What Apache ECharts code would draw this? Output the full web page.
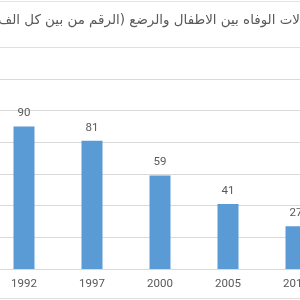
<!DOCTYPE html>
<html>
<head>
<meta charset="utf-8">
<script src="https://cdn.jsdelivr.net/npm/echarts@6/dist/echarts.min.js"></script>
<style>html,body{margin:0;padding:0;background:#fff}#c{width:300px;height:300px}</style>
</head>
<body>
<div id="c"></div>
<script>
const titleWords = ['معدلات','الوفاه','بين','الاطفال','والرضع','(الرقم','من','بين','كل','الف','مولود)'];
const categories = ['1992','1997','2000','2005','2010'];
const values = [90,81,59,41,27];
const yMin = 0, yMax = 120, yStep = 20;

const titleText = titleWords.join(' ');

// size/position the (cropped) title so that "…لات" starts at the right edge and "الف" reaches the left edge
const TITLE_FONT = 'DejaVu Sans';
const ctx = document.createElement('canvas').getContext('2d');
function tw(s, fs) { ctx.font = fs + 'px "' + TITLE_FONT + '"'; return ctx.measureText(s).width; }
const baseFs = 13;
const hidden13 = tw(titleWords[0], baseFs) - tw('لات', baseFs);
const visible13 = tw(titleWords.slice(0, 10).join(' '), baseFs) - hidden13;
const titleFs = baseFs * 302 / visible13;
const hiddenW = hidden13 * titleFs / baseFs;

const chart = echarts.init(document.getElementById('c'), null, {renderer:'canvas'});
chart.setOption({
  animation: false,
  backgroundColor: '#fff',
  title: {
    text: titleText,
    right: -hiddenW, top: 20, padding: 0,
    textVerticalAlign: 'middle',
    textStyle: {fontFamily: TITLE_FONT, fontSize: titleFs, fontWeight: 'normal', color: '#595959',
      verticalAlign: 'middle'}
  },
  graphic: [
    {type:'line', shape:{x1:0,y1:1.5,x2:300,y2:1.5}, style:{stroke:'#e3e3e3',lineWidth:1}},
    {type:'line', shape:{x1:0,y1:47.5,x2:300,y2:47.5}, style:{stroke:'#e0e0e0',lineWidth:1}},
    {type:'line', shape:{x1:0,y1:298.5,x2:300,y2:298.5}, style:{stroke:'#e0e0e0',lineWidth:1}}
  ],
  grid: {left: -10, width: 340, top: 79, height: 190, containLabel: false, outerBoundsMode: 'none'},
  xAxis: {
    type: 'category', data: categories,
    axisLine: {show: true, lineStyle: {color: '#d9d9d9'}},
    axisTick: {show: false},
    axisLabel: {color: '#595959', fontSize: 11.5, fontFamily: 'Roboto', margin: 9}
  },
  yAxis: {
    type: 'value', min: yMin, max: yMax, interval: yStep,
    axisLabel: {show: false},
    axisLine: {show: false}, axisTick: {show: false},
    splitLine: {lineStyle: {color: '#d9d9d9'}}
  },
  series: [{
    type: 'bar', data: values, barWidth: 21,
    itemStyle: {color: '#5b9bd5'},
    label: {show: true, position: 'top', distance: 7, color: '#595959', fontSize: 11.5, fontFamily: 'Roboto'}
  }]
});
</script>
</body>
</html>
